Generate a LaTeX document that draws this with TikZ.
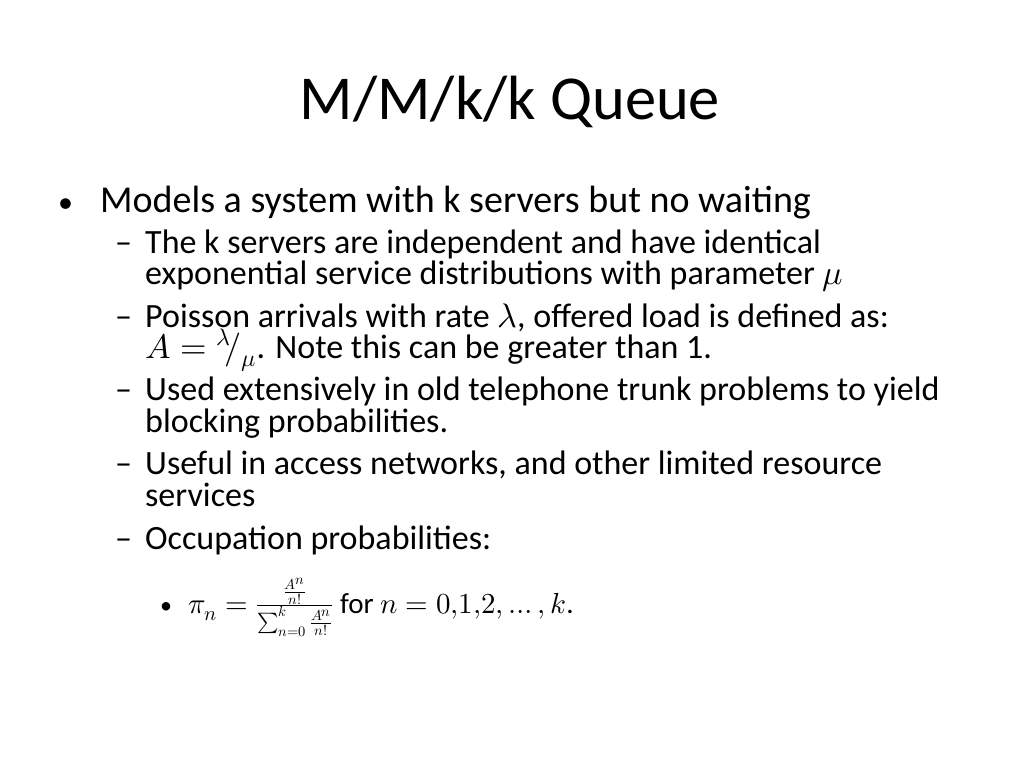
\documentclass[tikz,border=0pt]{standalone}
\usepackage{fontspec}
\usepackage{unicode-math}
\setmainfont{Carlito}
\setmathfont{Latin Modern Math}
\begin{document}
\begin{tikzpicture}[x=1pt,y=1pt,
  t/.style={anchor=base west,inner sep=0pt,font=\fontsize{34}{38}\selectfont},
  m/.style={anchor=base west,inner sep=0pt,font=\fontsize{38}{42}\selectfont}]
\fill[white] (0,0) rectangle (1024,-768);
\useasboundingbox (0,0) rectangle (1024,-768);
\node[anchor=base,inner sep=0pt,font=\fontsize{62.5}{66}\selectfont] (title) at (510,-119) {M/M/k/k Queue};
\node[anchor=base west,inner sep=0pt,font=\fontsize{30}{34}\selectfont] (b1) at (58,-212) {•};
\node[m] (l1) at (100,-212) {Models a system with k servers but no waiting};
\node[t] (d1) at (115,-253) {–};
\node[t] (l2) at (145,-253) {The k servers are independent and have identical};
\node[t] (l3) at (145,-284) {exponential service distributions with parameter $\mu$};
\node[t] (d2) at (115,-327) {–};
\node[t] (l4) at (145,-327) {Poisson arrivals with rate $\lambda$, offered load is defined as:};
\node[t] (l5) at (145,-358) {$A={}^{\lambda}\!/_{\mu}$. Note this can be greater than 1.};
\node[t] (d3) at (115,-400) {–};
\node[t] (l6) at (145,-400) {Used extensively in old telephone trunk problems to yield};
\node[t] (l7) at (145,-432) {blocking probabilities.};
\node[t] (d4) at (115,-474) {–};
\node[t] (l8) at (145,-474) {Useful in access networks, and other limited resource};
\node[t] (l9) at (145,-506) {services};
\node[t] (d5) at (115,-549) {–};
\node[t] (l10) at (145,-549) {Occupation probabilities:};
\node[anchor=base west,inner sep=0pt,font=\fontsize{24}{28}\selectfont] (b2) at (160,-613) {•};
\node[anchor=base west,inner sep=0pt,font=\fontsize{29}{32}\selectfont] (f) at (188,-613)
 {$\pi_n=\frac{\frac{A^n}{n!}}{\sum_{n=0}^{k}\frac{A^n}{n!}}$ for $n=0{,}1{,}2,\dots,k$.};
\end{tikzpicture}
\end{document}
